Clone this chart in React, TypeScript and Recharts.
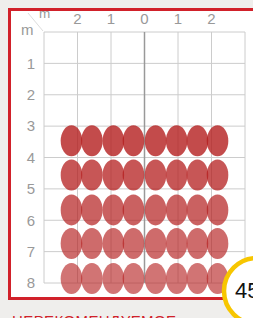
import React from "react"
import { ScatterChart, Scatter, XAxis, YAxis, CartesianGrid, ReferenceLine } from "recharts"

// planting scheme: columns across (m from the centre), rows in depth (m)
const xTicks = [-3, -2, -1, 0, 1, 2, 3]
const yTicks = [0, 1, 2, 3, 4, 5, 6, 7, 8]
const columnOffsets = [-2.18, -1.57, -0.93, -0.33, 0.33, 0.96, 1.58, 2.18]
const rowDepths = [3.47, 4.56, 5.67, 6.74, 7.86]
const badgeValue = "45"
const caption = "НЕРЕКОМЕНДУЕМОЕ"

const rowOpacity = [0.8, 0.75, 0.7, 0.66, 0.62]

const rows = rowDepths.map((depth) => columnOffsets.map((x) => ({ x, y: depth })))

const Ellipse = (props: any) => {
  const { cx, cy, fill, fillOpacity } = props
  return <ellipse cx={cx} cy={cy} rx={10.8} ry={15.5} fill={fill} fillOpacity={fillOpacity} />
}

const font = "'Liberation Sans', Arial, sans-serif"

export default function App() {
  return (
    <div
      style={{
        position: "fixed",
        left: 0,
        top: 0,
        width: 253,
        height: 318,
        overflow: "hidden",
        background: "#efeeec",
        fontFamily: font,
      }}
    >
      <div
        style={{
          position: "absolute",
          left: 8,
          top: 8,
          width: 262,
          height: 292,
          boxSizing: "border-box",
          border: "3px solid #d1212a",
          background: "#fff",
        }}
      />
      <div style={{ position: "absolute", left: 0, top: 0 }}>
        <ScatterChart width={253} height={318} margin={{ top: 0, right: 8, bottom: 35, left: 0 }}>
          <CartesianGrid stroke="#cccccc" strokeWidth={1} />
          <XAxis
            type="number"
            dataKey="x"
            orientation="top"
            domain={[-3, 3]}
            ticks={xTicks}
            interval={0}
            height={32}
            axisLine={false}
            tickLine={false}
            tickMargin={2}
            tick={{ fill: "#999", fontSize: 15, fontFamily: font }}
            tickFormatter={(v: number) => (Math.abs(v) === 3 ? "" : String(Math.abs(v)))}
          />
          <YAxis
            type="number"
            dataKey="y"
            domain={[0, 8]}
            reversed
            ticks={yTicks}
            interval={0}
            width={44}
            axisLine={false}
            tickLine={false}
            tickMargin={3}
            tick={{ fill: "#999", fontSize: 15, fontFamily: font }}
            tickFormatter={(v: number) => (v === 0 ? "" : String(v))}
          />
          <ReferenceLine x={0} stroke="#999" strokeWidth={1.5} />
          {rows.map((row, i) => (
            <Scatter
              key={i}
              data={row}
              fill="#b41e1e"
              fillOpacity={rowOpacity[i]}
              shape={Ellipse}
              isAnimationActive={false}
            />
          ))}
        </ScatterChart>
      </div>
      <svg width={253} height={318} style={{ position: "absolute", left: 0, top: 0, pointerEvents: "none" }}>
        <line x1={28} y1={13} x2={43} y2={31} stroke="#dddddd" strokeWidth={1} />
        <text x={39} y={18} fontSize={13.5} fill="#999" fontFamily={font}>m</text>
        <text x={21} y={35} fontSize={15} fill="#999" fontFamily={font}>m</text>
        <circle cx={257} cy={291} r={33} fill="#fff" stroke="#f7c600" strokeWidth={4.5} />
        <text x={235} y={298} fontSize={22} fill="#111" fontFamily={font}>{badgeValue}</text>
        <text x={12} y={326} fontSize={15} fill="#d1212a" fontFamily={font} letterSpacing={0.4}>{caption}</text>
      </svg>
    </div>
  )
}
